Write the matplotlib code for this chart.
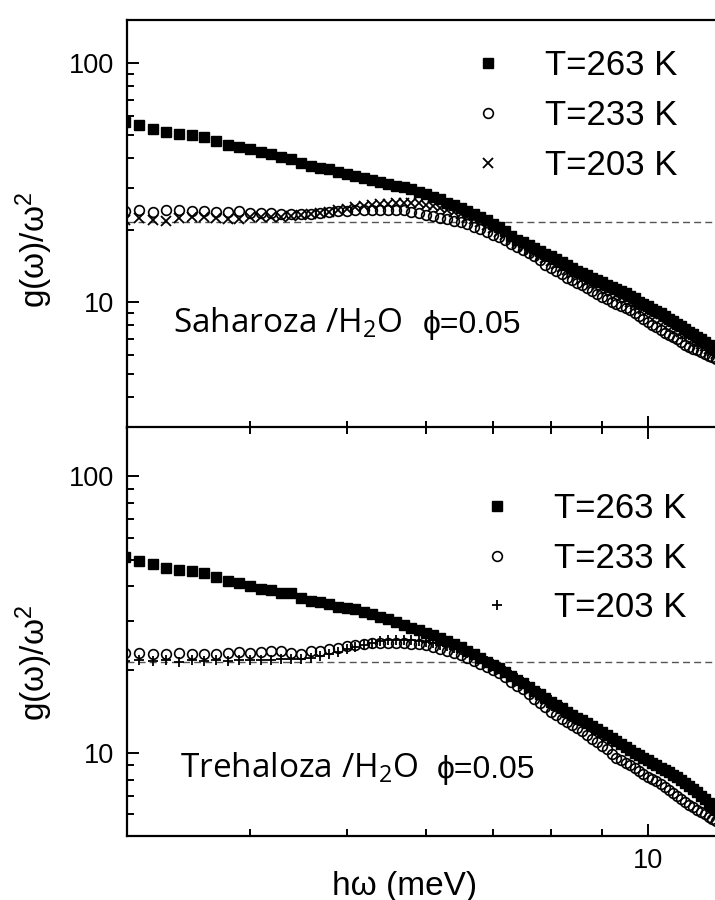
import matplotlib
matplotlib.use('agg')
import matplotlib.pyplot as plt
from matplotlib.ticker import LogLocator, NullFormatter, FuncFormatter

plt.rcParams['font.family'] = ['Liberation Sans', 'DejaVu Sans']
plt.rcParams['mathtext.default'] = 'regular'

# energy channels (meV)
energy = [3.0, 3.1, 3.2, 3.3, 3.4, 3.5, 3.6, 3.7, 3.8, 3.9,
          4.0, 4.1, 4.2, 4.3, 4.4, 4.5, 4.6, 4.7, 4.8, 4.9,
          5.0, 5.1, 5.2, 5.3, 5.4, 5.5, 5.6, 5.7, 5.8, 5.9,
          6.0, 6.1, 6.2, 6.3, 6.4, 6.5, 6.6, 6.7, 6.8, 6.9,
          7.0, 7.1, 7.2, 7.3, 7.4, 7.5, 7.6, 7.7, 7.8, 7.9,
          8.0, 8.1, 8.2, 8.3, 8.4, 8.5, 8.6, 8.7, 8.8, 8.9,
          9.0, 9.1, 9.2, 9.3, 9.4, 9.5, 9.6, 9.7, 9.8, 9.9,
          10.0, 10.1, 10.2, 10.3, 10.4, 10.5, 10.6, 10.7, 10.8, 10.9,
          11.0, 11.1, 11.2, 11.3, 11.4, 11.5, 11.6, 11.7]

# Saharoza / H2O
sah_263 = [56.6, 54.9, 52.6, 51.4, 50.3, 49.8, 48.7, 47.2, 45.2, 44.3,
           43.4, 42.2, 41.5, 40.2, 39.4, 37.9, 37.1, 36.4, 35.8, 35.0,
           34.2, 33.5, 32.9, 32.3, 31.7, 31.1, 30.6, 30.1, 29.5, 28.9,
           28.2, 27.5, 26.8, 26.0, 25.3, 24.6, 23.9, 23.3, 22.6, 22.0,
           21.2, 20.5, 19.7, 18.9, 18.2, 17.7, 17.2, 16.7, 16.3, 15.9,
           15.5, 15.1, 14.7, 14.3, 13.9, 13.5, 13.15, 12.9, 12.6, 12.35,
           12.1, 11.8, 11.55, 11.35, 11.1, 10.85, 10.6, 10.35, 10.0, 9.75,
           9.55, 9.35, 9.15, 8.95, 8.75, 8.5, 8.3, 8.1, 7.9, 7.7,
           7.5, 7.3, 7.1, 6.95, 6.75, 6.6, 6.4, 6.25]
sah_233 = [24.0, 24.3, 23.8, 24.3, 24.2, 23.9, 24.0, 23.8, 23.8, 23.9,
           23.5, 23.4, 23.4, 23.3, 23.3, 23.3, 23.3, 23.5, 23.8, 23.9,
           24.0, 24.1, 24.2, 24.2, 24.3, 24.3, 24.2, 24.1, 23.8, 23.5,
           23.1, 22.8, 22.5, 22.1, 21.8, 21.5, 21.1, 20.6, 20.1, 19.6,
           19.1, 18.7, 18.2, 17.5, 17.0, 16.5, 16.0, 15.5, 14.9, 14.3,
           13.8, 13.4, 13.0, 12.6, 12.3, 12.0, 11.7, 11.4, 11.1, 10.8,
           10.5, 10.25, 10.0, 9.8, 9.6, 9.4, 9.2, 9.0, 8.7, 8.45,
           8.2, 8.0, 7.8, 7.6, 7.4, 7.25, 7.1, 6.95, 6.75, 6.6,
           6.45, 6.35, 6.25, 6.15, 6.05, 5.95, 5.85, 5.75]
sah_203 = [21.9, 22.3, 22.0, 21.8, 22.3, 22.6, 22.6, 22.4, 22.2, 22.2,
           22.6, 22.6, 22.7, 22.7, 22.8, 23.1, 23.2, 23.5, 23.8, 24.1,
           24.4, 24.8, 25.1, 25.4, 25.6, 25.7, 25.8, 25.9, 25.9, 25.8,
           25.5, 25.1, 24.7, 24.2, 23.8, 23.3, 22.7, 22.2, 21.6, 21.0,
           20.3, 19.6, 19.0, 18.3, 17.6, 17.0, 16.5, 16.0, 15.6, 15.2,
           14.8, 14.4, 14.0, 13.6, 13.2, 12.9, 12.5, 12.25, 12.0, 11.7,
           11.45, 11.2, 10.95, 10.7, 10.5, 10.25, 10.0, 9.8, 9.55, 9.3,
           9.1, 8.9, 8.7, 8.5, 8.3, 8.1, 7.9, 7.7, 7.5, 7.35,
           7.15, 7.0, 6.8, 6.65, 6.5, 6.35, 6.2, 6.05]

# Trehaloza / H2O
tre_263 = [51.3, 49.6, 48.3, 46.6, 45.9, 45.6, 44.9, 43.4, 41.9, 41.1,
           40.2, 39.2, 38.9, 38.0, 38.0, 36.4, 35.5, 35.1, 34.6, 33.8,
           33.5, 33.1, 32.4, 31.7, 31.1, 30.5, 29.8, 29.1, 28.4, 27.8,
           27.2, 26.6, 26.0, 25.4, 24.8, 24.1, 23.4, 22.7, 22.0, 21.4,
           20.8, 20.2, 19.6, 19.0, 18.4, 17.9, 17.3, 16.8, 16.3, 15.8,
           15.3, 14.9, 14.5, 14.1, 13.7, 13.4, 13.1, 12.8, 12.5, 12.2,
           11.9, 11.6, 11.3, 11.05, 10.8, 10.5, 10.25, 10.0, 9.8, 9.6,
           9.4, 9.2, 9.0, 8.8, 8.65, 8.5, 8.3, 8.15, 8.0, 7.8,
           7.6, 7.4, 7.2, 7.0, 6.8, 6.6, 6.4, 6.2]
tre_233 = [22.9, 22.9, 22.8, 22.8, 23.0, 22.8, 22.8, 22.8, 22.9, 23.1,
           22.9, 23.2, 23.3, 23.4, 22.9, 22.8, 23.4, 23.4, 23.7, 24.0,
           24.3, 24.5, 24.8, 25.0, 25.0, 25.0, 24.9, 24.9, 24.8, 24.7,
           24.5, 24.2, 23.8, 23.4, 23.0, 22.5, 22.0, 21.5, 21.0, 20.5,
           20.0, 19.4, 18.8, 18.1, 17.5, 17.0, 16.3, 15.6, 15.1, 14.6,
           14.1, 13.7, 13.3, 12.9, 12.6, 12.3, 12.0, 11.6, 11.2, 10.9,
           10.6, 10.3, 9.9, 9.6, 9.4, 9.2, 9.0, 8.8, 8.6, 8.4,
           8.2, 8.05, 7.9, 7.7, 7.55, 7.35, 7.15, 7.0, 6.8, 6.65,
           6.5, 6.35, 6.2, 6.1, 6.0, 5.85, 5.75, 5.65]
tre_203 = [21.5, 21.7, 21.5, 21.6, 21.4, 21.6, 21.5, 21.6, 21.5, 21.6,
           21.6, 21.7, 21.7, 21.8, 21.8, 21.9, 22.1, 22.4, 22.8, 23.2,
           23.7, 24.1, 24.6, 25.0, 25.3, 25.5, 25.6, 25.6, 25.5, 25.4,
           25.2, 24.9, 24.6, 24.3, 23.9, 23.5, 23.0, 22.5, 22.0, 21.5,
           21.0, 20.4, 19.8, 19.2, 18.6, 18.0, 17.5, 17.0, 16.5, 16.0,
           15.5, 15.1, 14.7, 14.3, 13.9, 13.6, 13.3, 13.0, 12.6, 12.3,
           12.0, 11.7, 11.4, 11.1, 10.85, 10.6, 10.35, 10.1, 9.9, 9.7,
           9.5, 9.3, 9.1, 8.9, 8.7, 8.55, 8.35, 8.2, 8.0, 7.85,
           7.65, 7.45, 7.25, 7.05, 6.85, 6.65, 6.45, 6.25]

labels = ['T=263 K', 'T=233 K', 'T=203 K']
debye_sah = 21.5
debye_tre = 21.3


def style_axis(ax, ylim, top_ticks):
    ax.set_xscale('log')
    ax.set_yscale('log')
    ax.set_xlim(3.015, 12.0)
    ax.set_ylim(*ylim)
    for axis in (ax.xaxis, ax.yaxis):
        axis.set_major_locator(LogLocator(base=10))
        axis.set_minor_locator(LogLocator(base=10, subs=range(2, 10)))
        axis.set_major_formatter(FuncFormatter(lambda v, p: f'{v:g}'))
        axis.set_minor_formatter(NullFormatter())
    ax.tick_params(which='both', direction='in', width=1.4, labelsize=19.5,
                   top=top_ticks, right=False, pad=9)
    ax.tick_params(which='major', length=8.5)
    ax.tick_params(which='minor', length=5)
    for s in ax.spines.values():
        s.set_linewidth(1.6)
    ax.set_ylabel('g(ω)/ω$^2$', fontsize=24)


def draw(ax, y263, y233, y203, mk3, ms3, line_y):
    ax.axhline(line_y, color='#555555', lw=1.0, ls=(0, (5, 3)), zorder=1)
    ax.plot(energy, y263, ls='none', marker='s', ms=6.6, color='black', label=labels[0], zorder=3)
    ax.plot(energy, y233, ls='none', marker='o', ms=7, mfc='none', mec='black', mew=1.2,
            label=labels[1], zorder=4)
    ax.plot(energy, y203, ls='none', marker=mk3, ms=ms3, color='black', mew=1.3,
            label=labels[2], zorder=5)


fig = plt.figure(figsize=(7.15, 9.0), dpi=100)
ax1 = fig.add_axes([127 / 715, 472 / 900, 600 / 715, 408 / 900])
ax2 = fig.add_axes([127 / 715, 64 / 900, 600 / 715, 409 / 900])

leg_kw = dict(loc='upper left', frameon=False, fontsize=25, borderpad=0, borderaxespad=0,
              handlelength=1.0, handletextpad=1.14, labelspacing=0.48, numpoints=1)

draw(ax1, sah_263, sah_233, sah_203, 'x', 6.5, debye_sah)
style_axis(ax1, (2.96, 151), False)
ax1.tick_params(axis='x', labelbottom=False)
ax1.legend(bbox_to_anchor=(0.5727, 0.928), **leg_kw)
ax1.text(0.0767, 0.233, 'Saharoza /H$_2$O', transform=ax1.transAxes, fontsize=24,
         family='Open Sans', va='baseline')
ax1.text(0.493, 0.233, 'ϕ=0.05', transform=ax1.transAxes, fontsize=23,
         family=['Liberation Sans', 'DejaVu Sans'], va='baseline')
ax1.yaxis.set_label_coords(-0.12, 0.436)

draw(ax2, tre_263, tre_233, tre_203, '+', 7, debye_tre)
style_axis(ax2, (5.0, 151), True)
ax2.legend(bbox_to_anchor=(0.5875, 0.841), **leg_kw)
ax2.text(0.088, 0.142, 'Trehaloza /H$_2$O', transform=ax2.transAxes, fontsize=24,
         family='Open Sans', va='baseline')
ax2.text(0.517, 0.142, 'ϕ=0.05', transform=ax2.transAxes, fontsize=23,
         family=['Liberation Sans', 'DejaVu Sans'], va='baseline')
ax2.yaxis.set_label_coords(-0.12, 0.423)
ax2.set_xlabel('hω (meV)', fontsize=24)
ax2.xaxis.set_label_coords(0.462, -0.085)

fig.savefig('out.png', dpi=100)
plt.close(fig)
